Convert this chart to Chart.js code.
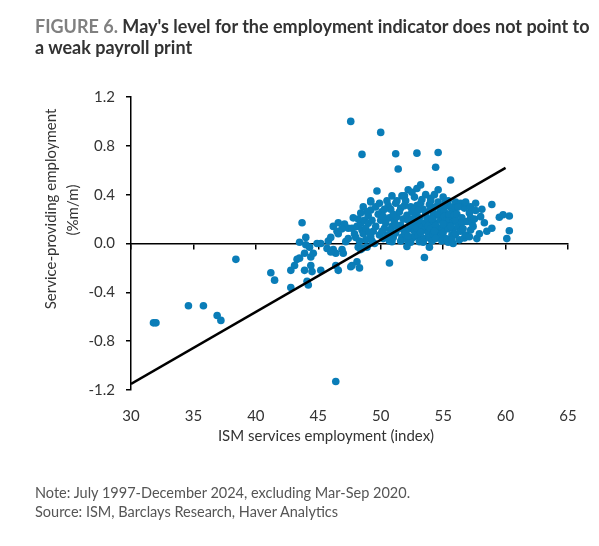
<!DOCTYPE html>
<html>
<head>
<meta charset="utf-8">
<script src="https://cdn.jsdelivr.net/npm/chart.js@4/dist/chart.umd.min.js"></script>
<style>
html,body{margin:0;padding:0;background:#fff;}
#wrap{position:relative;width:599px;height:546px;overflow:hidden;font-family:Lato,"Noto Sans",sans-serif;}
#c{position:absolute;left:0;top:0;}
.title{position:absolute;left:35px;top:16px;font-weight:700;font-size:18px;line-height:21px;color:#333;white-space:nowrap;}
.title .fig{color:#808080;}
.xt{position:absolute;left:326px;top:426px;transform:translateX(-50%);font-size:15px;line-height:18px;color:#333;white-space:nowrap;}
.yt{position:absolute;font-size:15px;line-height:18px;color:#333;white-space:nowrap;transform:translate(-50%,-50%) rotate(-90deg);}
.note{position:absolute;left:35px;top:483px;font-size:14.5px;line-height:19px;color:#555;white-space:nowrap;}
</style>
</head>
<body>
<div id="wrap">
  <canvas id="c" width="599" height="546"></canvas>
  <div class="title"><span class="fig">FIGURE 6.</span> May's level for the employment indicator does not point to<br>a weak payroll print</div>
  <div class="yt" style="left:50px;top:209px;">Service-providing employment</div>
  <div class="yt" style="left:72px;top:210px;">(%m/m)</div>
  <div class="xt">ISM services employment (index)</div>
  <div class="note">Note: July 1997-December 2024, excluding Mar-Sep 2020.<br>Source: ISM, Barclays Research, Haver Analytics</div>
</div>
<script>
// x: ISM services employment index, y: service-providing employment % m/m
const scatterPoints = [
  [31.8,-0.65],[32.0,-0.65],[34.6,-0.51],[35.8,-0.51],[36.9,-0.59],[37.2,-0.63],[38.4,-0.13],[46.4,-1.13],
  [41.2,-0.24],[41.5,-0.30],[42.8,-0.36],[44.2,-0.34],[44.1,-0.31],[42.8,-0.22],[43.1,-0.18],[43.3,-0.13],
  [43.5,-0.12],[43.9,-0.22],[43.9,-0.08],[44.4,-0.11],[44.4,-0.18],[44.5,-0.23],[44.6,-0.08],[45.2,-0.22],
  [43.5,0.01],[44.0,0.05],[44.0,-0.01],[44.3,-0.03],[44.9,0.0],[45.2,0.0],[43.7,0.17],
  [45.8,0.02],[46.0,0.05],[45.7,-0.04],[46.2,0.14],[46.6,0.17],[46.5,0.10],[46.2,-0.05],[46.4,-0.08],
  [46.9,-0.05],[47.0,-0.08],[46.6,0.08],[47.2,0.015],[47.4,0.125],[47.7,0.125],[47.6,-0.19],[48.1,-0.15],
  [48.3,-0.20],[48.2,-0.03],[48.1,0.14],[48.4,0.165],[48.5,0.11],[48.6,0.08],[48.7,0.19],[49.0,0.165],
  [49.0,0.23],[49.2,0.275],[49.2,0.34],[49.3,0.19],[48.8,0.03],[48.9,-0.03],[46.4,-0.18],[46.6,-0.22],
  [47.7,-0.18],[46.0,-0.07],[48.4,-0.05],[48.0,0.05],[48.3,0.02],[48.6,0.30],[48.2,0.20],[47.9,0.08],
  [47.4,0.04],[47.8,0.21],[47.1,0.16],[46.9,0.12],[48.9,0.26],[48.4,0.25],[48.5,-0.04],[48.8,0.125],
  [49.2,0.056],[49.5,0.0],[49.4,0.10],[49.1,0.09],[49.3,0.02],
  [47.6,1.0],[50.0,0.91],[48.5,0.73],[51.2,0.735],[52.9,0.74],[54.6,0.745],[51.4,0.61],[54.4,0.625],
  [55.6,0.52],[53.2,0.48],[54.6,0.44],[49.7,0.43],[52.2,0.44],[52.9,0.45],[52.5,0.42],
  [49.6,0.14],[49.9,0.07],[49.8,0.24],[49.6,0.30],[49.9,0.33],[50.0,0.19],[49.2,0.35],
  [50.1,0.26],[50.3,0.125],[50.5,0.07],[50.7,0.21],[50.8,0.28],[50.9,0.14],[50.9,0.015],[50.9,0.39],
  [50.2,0.04],[50.4,0.17],[50.6,0.31],[50.8,0.11],[50.2,0.22],[50.5,0.35],[50.1,0.10],[50.7,0.02],
  [50.3,0.28],[50.7,-0.16],
  [51.0,0.05],[51.1,0.18],[51.2,0.085],[51.2,0.33],[51.3,0.22],[51.4,0.12],[51.5,0.26],[51.6,0.29],
  [51.6,0.15],[51.7,0.39],[51.7,0.05],[51.8,0.20],[51.3,0.35],[51.9,0.31],[51.9,0.39],[51.9,0.085],
  [51.0,0.24],[51.6,0.02],[51.2,0.15],[51.8,0.12],
  [52.0,0.08],[52.1,0.23],[52.1,0.03],[52.1,-0.025],[52.2,0.19],[52.3,0.12],[52.4,0.30],[52.4,0.15],
  [52.5,0.26],[52.6,0.05],[52.7,0.38],[52.7,0.10],[52.8,0.22],[52.8,0.17],[52.9,0.31],[52.0,0.35],
  [52.4,0.01],[52.7,0.28],[52.2,0.06],[52.9,0.13],[52.5,0.20],
  [53.0,0.06],[53.1,0.21],[53.1,0.015],[53.2,0.33],[53.2,0.165],[53.3,0.13],[53.4,0.28],[53.5,0.04],
  [53.5,0.11],[53.5,-0.115],[53.6,0.17],[53.6,0.25],[53.6,0.40],[53.8,0.09],[53.9,0.32],[53.9,0.18],
  [53.9,0.045],[53.9,-0.03],[53.0,0.27],[53.3,0.36],[53.7,0.21],[53.2,0.09],[53.8,0.14],[53.4,0.01],
  [54.0,0.12],[54.0,0.28],[54.0,0.37],[54.1,0.02],[54.2,0.25],[54.2,0.21],[54.2,0.08],[54.3,0.17],
  [54.3,0.40],[54.4,0.30],[54.4,0.15],[54.5,0.06],[54.6,0.34],[54.7,0.11],[54.7,0.23],[54.8,0.19],
  [54.8,0.27],[54.8,0.06],[54.9,0.30],[54.9,0.13],[54.0,0.35],[54.4,0.04],[54.6,0.24],[54.1,0.20],
  [54.9,0.02],[54.3,0.10],
  [55.0,0.09],[55.0,0.38],[55.1,0.26],[55.1,0.22],[55.2,0.04],[55.2,0.31],[55.3,0.19],[55.3,0.16],
  [55.3,0.03],[55.4,0.12],[55.4,0.35],[55.5,0.20],[55.6,0.30],[55.7,0.07],[55.7,0.26],[55.8,0.18],
  [55.8,0.12],[55.8,0.0],[55.0,0.16],[55.5,0.24],[55.2,0.34],[55.9,0.23],[55.4,0.01],[55.6,0.14],
  [55.9,0.07],[55.7,0.03],
  [56.0,0.08],[56.0,0.34],[56.0,0.29],[56.0,0.19],[56.1,0.24],[56.2,0.14],[56.3,0.03],[56.4,0.33],
  [56.4,0.10],[56.5,0.21],[56.5,0.17],[56.6,0.12],[56.7,0.29],[56.7,0.045],[56.8,0.33],[56.8,0.34],
  [56.9,0.18],[56.2,0.30],[56.8,0.07],
  [57.1,0.25],[57.1,0.055],[57.2,0.30],[57.2,0.21],[57.2,0.11],[57.3,0.17],[57.6,0.33],[57.4,0.14],
  [57.6,0.27],[57.7,0.04],[57.5,0.20],[57.9,0.08],[58.0,0.22],[58.1,0.28],[58.3,0.17],[58.5,0.10],
  [58.9,0.32],[58.9,0.125],[59.5,0.215],[59.8,0.235],[60.3,0.225],[60.3,0.105],[60.1,0.04]
];
// Fitted regression line end points
const fitX = [30, 60];
const fitY = [-1.15, 0.62];
// Axis ranges / ticks
const xRange = [30, 65], xStep = 5;
const yRange = [-1.2, 1.2], yStep = 0.4;

const tickFont = {family: 'Lato, "Noto Sans", sans-serif', size: 15};
const tickColor = '#333';

new Chart(document.getElementById('c'), {
  type: 'scatter',
  data: {
    datasets: [
      {
        type: 'line',
        data: fitX.map((x, i) => ({x, y: fitY[i]})),
        borderColor: '#000',
        borderWidth: 2.5,
        pointRadius: 0,
        fill: false,
        order: 0
      },
      {
        data: scatterPoints.map(p => ({x: p[0], y: p[1]})),
        backgroundColor: '#0a7db8',
        borderWidth: 0,
        pointRadius: 3.8,
        order: 1
      }
    ]
  },
  options: {
    responsive: false,
    animation: false,
    layout: {padding: {left: 0, right: 31, top: 97, bottom: 116}},
    plugins: {legend: {display: false}, tooltip: {enabled: false}},
    scales: {
      x: {
        type: 'linear', position: 'bottom', min: xRange[0], max: xRange[1],
        ticks: {stepSize: xStep, padding: 17, color: tickColor, font: tickFont},
        grid: {display: false, drawTicks: false},
        border: {display: false},
        afterFit: s => { s.height = 40; }
      },
      xz: {
        type: 'linear', axis: 'x', position: {y: 0}, min: xRange[0], max: xRange[1],
        ticks: {stepSize: xStep, display: false},
        grid: {drawOnChartArea: false, drawTicks: true, tickLength: 5, color: '#000', lineWidth: 1.5},
        border: {display: true, color: '#000', width: 1.5}
      },
      y: {
        type: 'linear', position: 'left', min: yRange[0], max: yRange[1],
        ticks: {stepSize: yStep, padding: 11, color: tickColor, font: tickFont,
                callback: v => Number(v).toFixed(1)},
        grid: {drawOnChartArea: false, drawTicks: true, tickLength: 5, color: '#000', lineWidth: 1.5},
        border: {display: true, color: '#000', width: 1.5},
        afterFit: s => { s.width = 131; }
      }
    }
  }
});
</script>
</body>
</html>
